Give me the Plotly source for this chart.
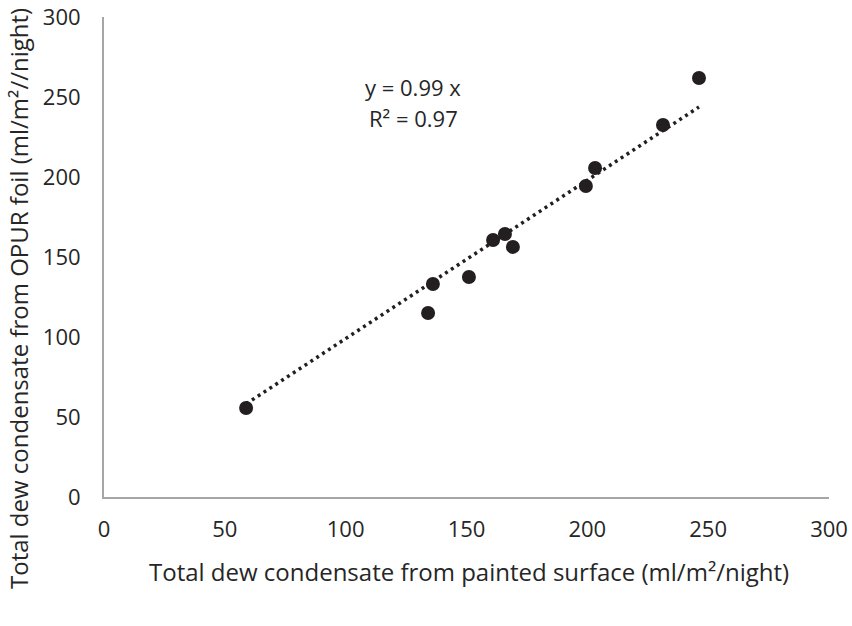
import plotly.graph_objects as go

painted = [58.8, 134.1, 136.1, 151.0, 161.0, 165.9, 169.2, 199.4, 203.2, 231.3, 246.2]
opur = [55.6, 115.0, 133.1, 137.5, 160.6, 164.4, 156.3, 194.4, 205.6, 232.5, 261.9]
slope = 0.99
r2 = 0.97
ticks = [0, 50, 100, 150, 200, 250, 300]
x_title = "Total dew condensate from painted surface (ml/m²/night)"
y_title = "Total dew condensate from OPUR foil (ml/m²//night)"

xmin, xmax = min(painted), max(painted)
trend_x = [xmin, xmax]
trend_y = [slope * v for v in trend_x]

font_family = "Open Sans, sans-serif"
txt = "#262626"

fig = go.Figure()
fig.add_trace(go.Scatter(
    x=trend_x, y=trend_y, mode="lines",
    line=dict(color="#231f20", width=3.5, dash="3px,4px"),
    showlegend=False, hoverinfo="skip"))
fig.add_trace(go.Scatter(
    x=painted, y=opur, mode="markers",
    marker=dict(color="#231f20", size=14),
    showlegend=False))

fig.add_annotation(x=128, y=256, text=f"y = {slope} x", showarrow=False,
                   font=dict(size=22, color=txt, family=font_family))
fig.add_annotation(x=128, y=237, text=f"R² = {r2}", showarrow=False,
                   font=dict(size=22, color=txt, family=font_family))

# axis titles
fig.add_annotation(xref="paper", yref="paper", x=0.503, y=-0.156,
                   xanchor="center", yanchor="middle", showarrow=False,
                   text=x_title, font=dict(size=24, color=txt, family=font_family))
fig.add_annotation(xref="paper", yref="paper", x=-0.1186, y=0.4125,
                   xanchor="center", yanchor="middle", showarrow=False, textangle=-90,
                   text=y_title, font=dict(size=24, color=txt, family=font_family))

fig.update_layout(
    width=852, height=626,
    margin=dict(l=104, r=23, t=17, b=129),
    paper_bgcolor="white", plot_bgcolor="white",
    font=dict(family=font_family, size=22, color=txt),
    xaxis=dict(range=[0, 300], tickvals=ticks, showgrid=False, zeroline=False,
               showline=True, linecolor="#a6a6a6", linewidth=2, automargin=False,
               ticks="outside", ticklen=12, tickcolor="rgba(0,0,0,0)",
               tickfont=dict(size=22)),
    yaxis=dict(range=[0, 300], tickvals=ticks, showgrid=False, zeroline=False,
               showline=True, linecolor="#a6a6a6", linewidth=2, automargin=False,
               ticks="outside", ticklen=17, tickcolor="rgba(0,0,0,0)",
               tickfont=dict(size=22)),
)

fig.write_html("out.html")
